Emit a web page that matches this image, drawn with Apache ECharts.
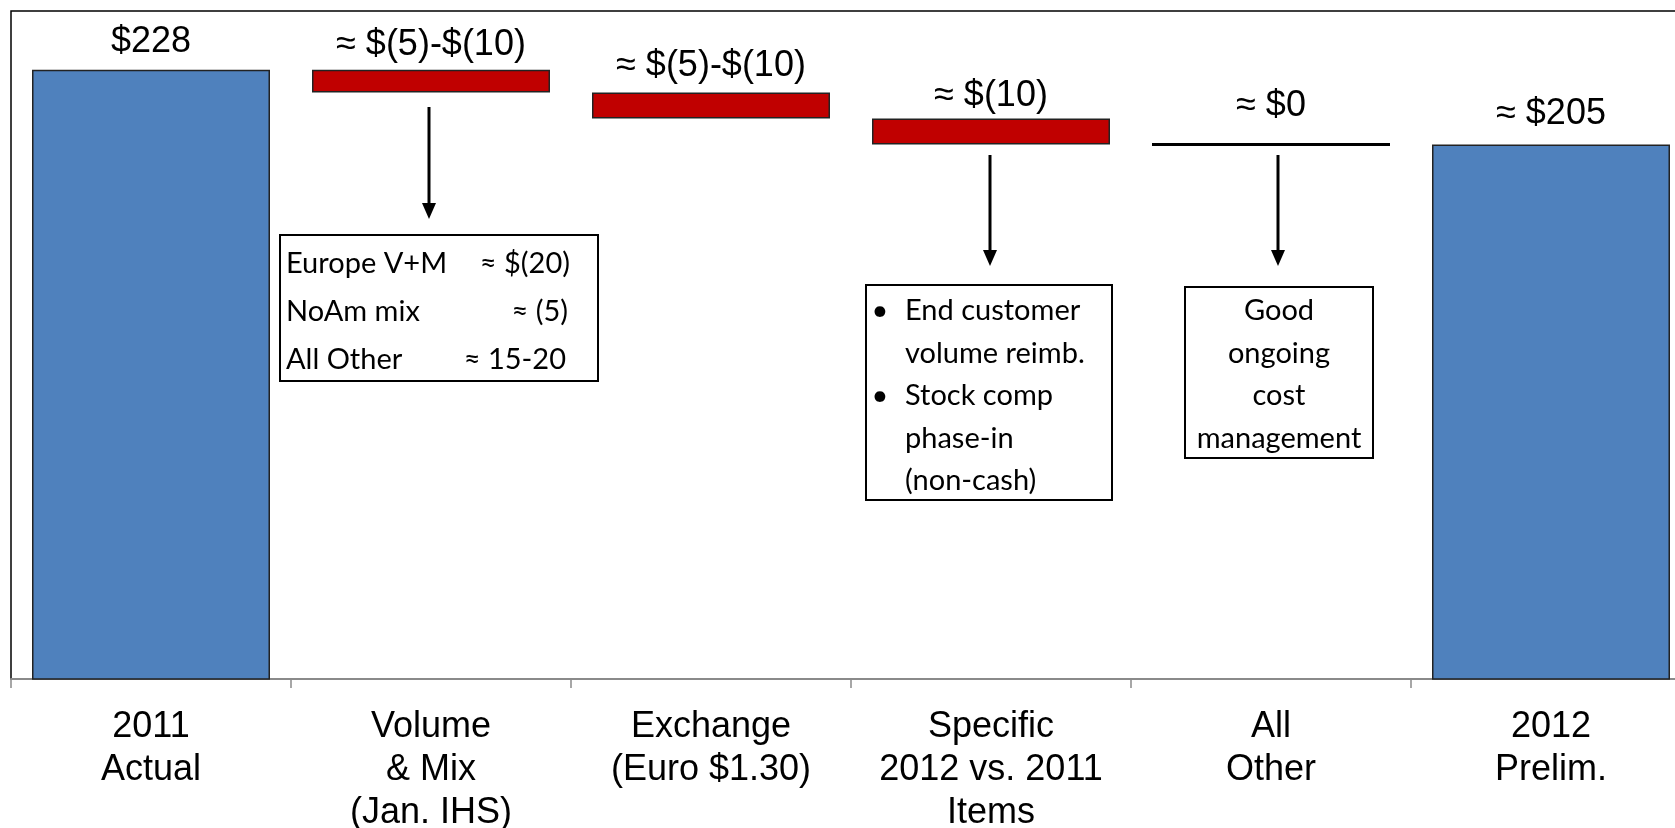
<!DOCTYPE html>
<html>
<head>
<meta charset="utf-8">
<script src="https://cdn.jsdelivr.net/npm/echarts@6/dist/echarts.min.js"></script>
<style>
html,body{margin:0;padding:0;background:#fff;}
#chart{width:1675px;height:828px;}
</style>
</head>
<body>
<div id="chart"></div>
<script>
// ---- data ----
const categories = ['2011\nActual', 'Volume\n& Mix\n(Jan. IHS)', 'Exchange\n(Euro $1.30)', 'Specific\n2012 vs. 2011\nItems', 'All\nOther', '2012\nPrelim.'];
const startValue = 228;
const changes = [-7, -8, -8, 0];
const endValue = 205;
const valueLabels = ['$228', '≈ $(5)-$(10)', '≈ $(5)-$(10)', '≈ $(10)', '≈ $0', '≈ $205'];
const volumeNotes = [['Europe V+M', '≈ $(20)'], ['NoAm mix', '≈ (5)'], ['All Other', '≈ 15-20']];
const specificNotes = [['•', 'End customer'], ['', 'volume reimb.'], ['•', 'Stock comp'], ['', 'phase-in'], ['', '(non-cash)']];
const otherNotes = ['Good', 'ongoing', 'cost', 'management'];

// ---- build waterfall ----
const baseData = [], totalData = [], redData = [], zeroData = [];
let running = startValue;
totalData.push(startValue); baseData.push('-'); redData.push('-');
changes.forEach((c, k) => {
  const i = k + 1;
  running += c;
  totalData.push('-');
  if (c < 0) { baseData.push(running); redData.push(-c); }
  else if (c > 0) { baseData.push(running - c); redData.push(c); }
  else { baseData.push('-'); redData.push('-'); zeroData.push([i, running]); }
});
totalData.push(endValue); baseData.push('-'); redData.push('-');

const labelDist = [10, 7, 8, 4, 21, 13];
const valueFont = 'Liberation Sans, Arial, sans-serif';
const noteFont = 'Lato, Carlito, sans-serif';

const chart = echarts.init(document.getElementById('chart'), null, {renderer: 'canvas'});

const graphics = [];
function box(x, y, w, h) {
  graphics.push({type: 'rect', shape: {x: x, y: y, width: w, height: h}, style: {fill: '#fff', stroke: '#000', lineWidth: 2}, z: 10});
}
function txt(x, y, s, align) {
  graphics.push({type: 'text', x: x, y: y, style: {text: s, font: '29px ' + noteFont, fill: '#000', textAlign: align, textVerticalAlign: 'middle'}, z: 11});
}
function arrow(x, y1, y2) {
  graphics.push({type: 'line', shape: {x1: x, y1: y1, x2: x, y2: y2 - 14}, style: {stroke: '#000', lineWidth: 3}, z: 10});
  graphics.push({type: 'polygon', shape: {points: [[x - 7, y2 - 16], [x + 7, y2 - 16], [x, y2]]}, style: {fill: '#000'}, z: 10});
}
box(280, 235, 318, 146);
volumeNotes.forEach((r, i) => { txt(286, 264 + i * 48, r[0], 'left'); txt(570 - i * 2, 264 + i * 48, r[1], 'right'); });
box(866, 285, 246, 215);
specificNotes.forEach((r, i) => { if (r[0]) txt(880, 311 + i * 42.4, r[0], 'center'); txt(905, 311 + i * 42.4, r[1], 'left'); });
box(1185, 287, 188, 171);
otherNotes.forEach((r, i) => txt(1279, 311 + i * 42.4, r, 'center'));
arrow(429, 107, 219);
arrow(990, 155, 266);
arrow(1278, 155, 266);

const option = {
  animation: false,
  backgroundColor: '#fff',
  grid: {left: 11, top: 11, width: 1680, height: 668, outerBoundsMode: 'none', containLabel: false,
    show: true, borderColor: '#000', borderWidth: 1.5, backgroundColor: 'transparent'},
  xAxis: {
    type: 'category',
    data: categories,
    axisLine: {lineStyle: {color: '#8a8a8a', width: 2}},
    axisTick: {show: true, length: 9, lineStyle: {color: '#8a8a8a', width: 1.5}},
    axisLabel: {interval: 0, margin: 27, color: '#000', fontSize: 36, lineHeight: 43, fontFamily: valueFont}
  },
  yAxis: {type: 'value', min: 41, max: 246, show: false, splitLine: {show: false}},
  series: [
    {type: 'bar', stack: 'w', data: baseData, barWidth: '85%', itemStyle: {color: 'transparent'}, silent: true},
    {type: 'bar', stack: 'w', data: redData, barWidth: '85%',
      itemStyle: {color: '#C00000', borderColor: '#222', borderWidth: 1.5},
      label: {show: true, position: 'top', fontSize: 36, fontFamily: valueFont, color: '#000',
        formatter: p => valueLabels[p.dataIndex]},
      labelLayout: p => ({dy: -(labelDist[p.dataIndex] - 5)})
    },
    {type: 'bar', stack: 'w', data: totalData, barWidth: '85%', barGap: '-100%',
      itemStyle: {color: '#4F81BD', borderColor: '#222', borderWidth: 1.5},
      label: {show: true, position: 'top', fontSize: 36, fontFamily: valueFont, color: '#000',
        formatter: p => valueLabels[p.dataIndex]},
      labelLayout: p => ({dy: -(labelDist[p.dataIndex] - 5)})
    },
    {type: 'custom', data: zeroData,
      renderItem: (params, api) => {
        const p = api.coord([api.value(0), api.value(1)]);
        const w = api.size([1, 0])[0] * 0.85;
        const idx = api.value(0);
        return {type: 'group', children: [
          {type: 'line', shape: {x1: p[0] - w / 2, y1: p[1], x2: p[0] + w / 2, y2: p[1]}, style: {stroke: '#000', lineWidth: 3}},
          {type: 'text', x: p[0], y: p[1] - labelDist[idx] - 18, style: {text: valueLabels[idx], font: '36px ' + valueFont, fill: '#000', textAlign: 'center', textVerticalAlign: 'middle'}}
        ]};
      }
    }
  ],
  graphic: graphics
};
chart.setOption(option);
</script>
</body>
</html>
